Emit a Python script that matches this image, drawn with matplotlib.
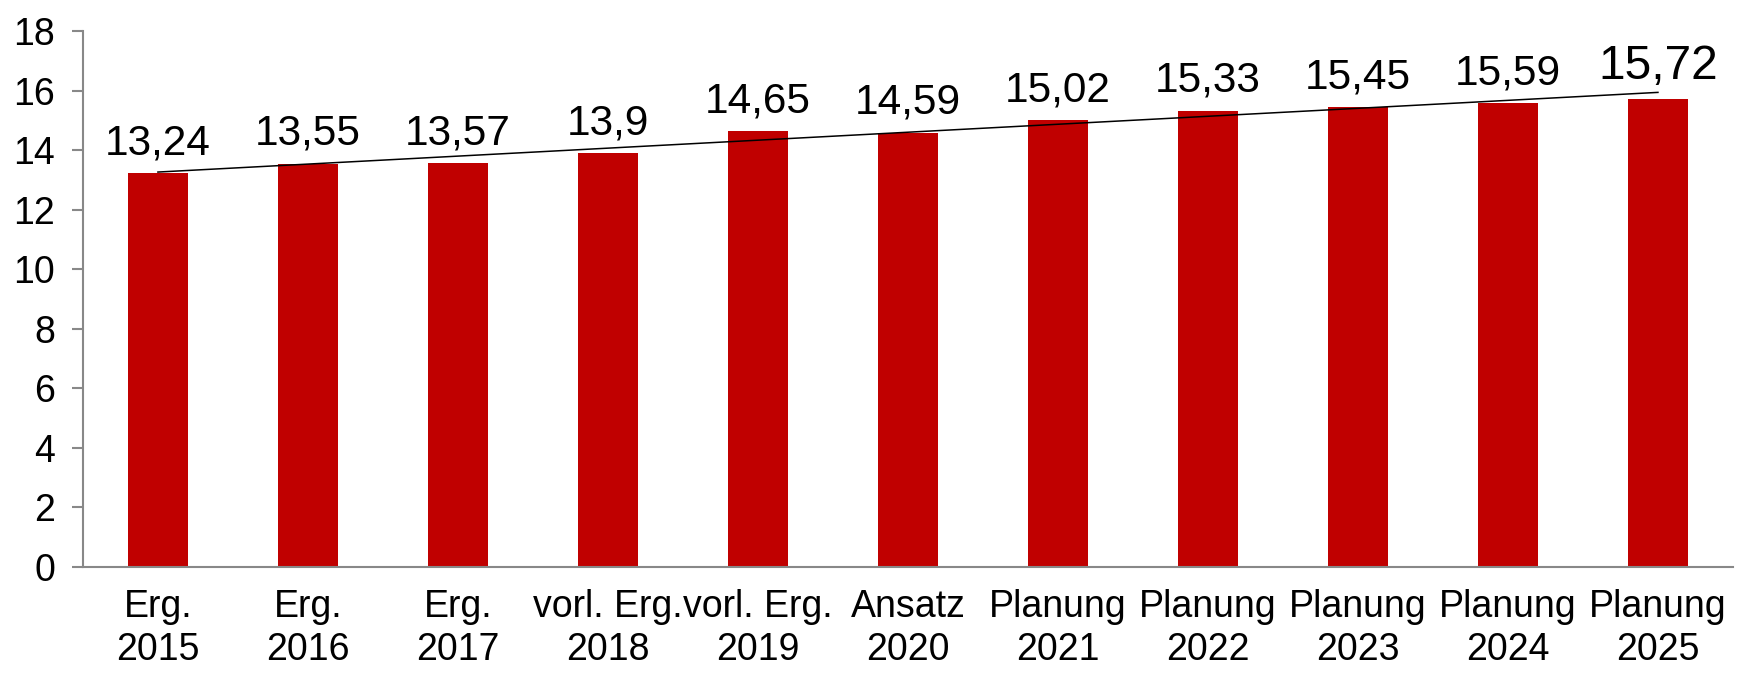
import numpy as np
import matplotlib.pyplot as plt

# Werte aus dem Diagramm
kategorien = ['Erg.\n2015', 'Erg.\n2016', 'Erg.\n2017', 'vorl. Erg.\n2018', 'vorl. Erg.\n2019',
              'Ansatz\n2020', 'Planung\n2021', 'Planung\n2022', 'Planung\n2023', 'Planung\n2024',
              'Planung\n2025']
werte = [13.24, 13.55, 13.57, 13.9, 14.65, 14.59, 15.02, 15.33, 15.45, 15.59, 15.72]
beschriftung = ['13,24', '13,55', '13,57', '13,9', '14,65', '14,59', '15,02', '15,33',
                '15,45', '15,59', '15,72']

plt.rcParams['font.family'] = ['Liberation Sans', 'DejaVu Sans']

fig = plt.figure(figsize=(17.42, 6.77), dpi=100)
ax = fig.add_axes([0.0476, 0.1625, 0.9472, 0.7917])

x = np.arange(len(werte))
ax.bar(x, werte, width=0.4, color='#C00000', zorder=2)

# lineare Trendlinie
m, b = np.polyfit(x, werte, 1)
ax.plot([x[0], x[-1]], [m * x[0] + b, m * x[-1] + b], color='black', lw=1.1, zorder=3)

for i, (w, t) in enumerate(zip(werte, beschriftung)):
    size = 34.5 if i == len(werte) - 1 else 30.5
    ax.annotate(t, (i, w), xytext=(0, 7), textcoords='offset points',
                ha='center', va='bottom', fontsize=size)

ax.set_xlim(-0.5, 10.5)
ax.set_ylim(0, 18)
ax.set_yticks(range(0, 19, 2))
ax.set_xticks(x)
ax.set_xticklabels(kategorien, fontsize=27, linespacing=1.25)
ax.tick_params(axis='x', length=0, pad=16)
ax.tick_params(axis='y', labelsize=27, length=8, width=1.5, color='#888888', pad=12)

for s in ['top', 'right']:
    ax.spines[s].set_visible(False)
for s in ['left', 'bottom']:
    ax.spines[s].set_color('#888888')
    ax.spines[s].set_linewidth(1.5)

fig.savefig('out.png', dpi=100)
